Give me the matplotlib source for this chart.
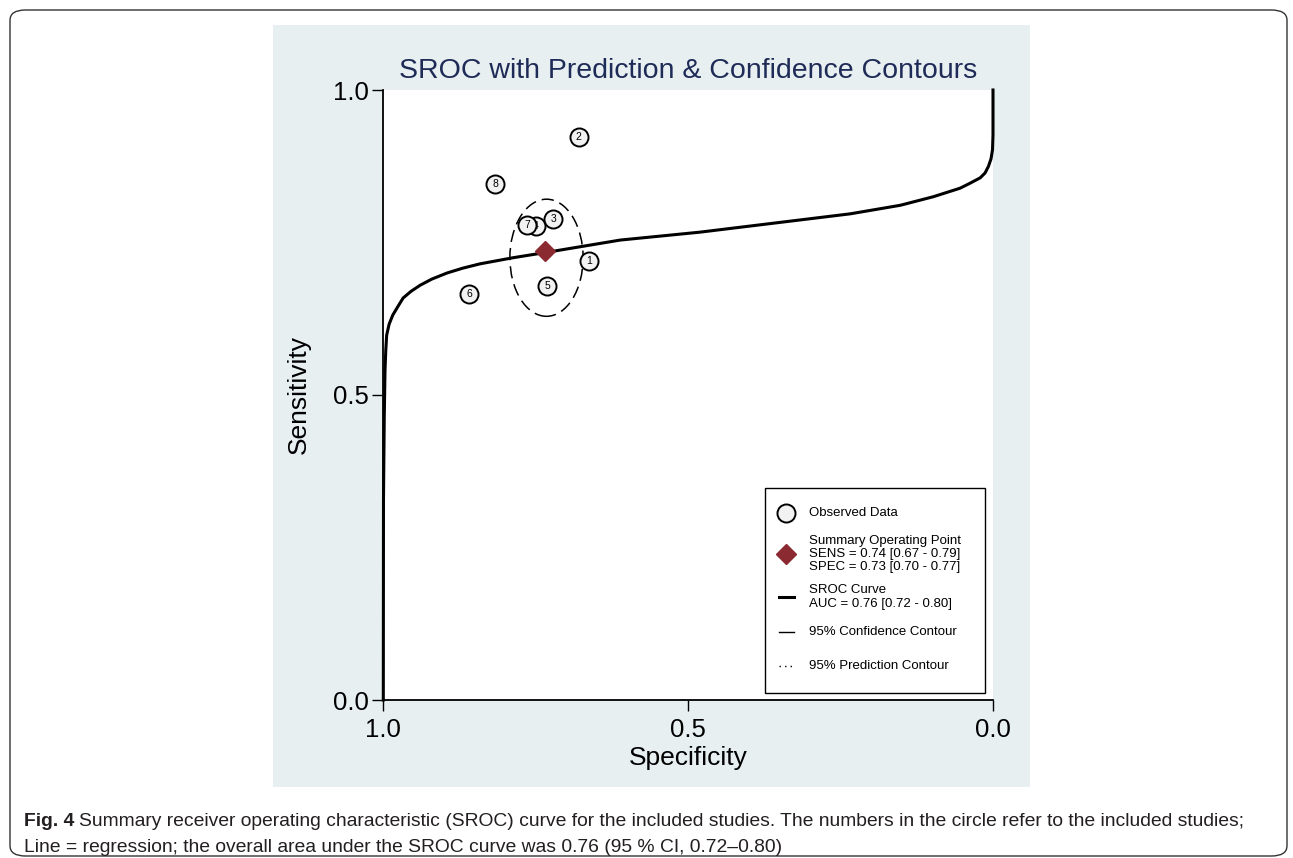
import matplotlib
matplotlib.use("Agg")
import matplotlib.pyplot as plt
from matplotlib import font_manager
from matplotlib.patches import Ellipse, Rectangle, FancyBboxPatch

# study points (specificity, sensitivity)
study_ids = ["4", "7", "2", "8", "3", "1", "5", "6"]
study_spec = [0.750, 0.764, 0.679, 0.816, 0.721, 0.662, 0.731, 0.859]
study_sens = [0.777, 0.779, 0.923, 0.846, 0.789, 0.720, 0.679, 0.666]

# summary operating point
summ_spec = 0.734
summ_sens = 0.736

# 95% confidence contour (centre, width in spec, height in sens)
conf_center = (0.732, 0.725)
conf_width = 0.120
conf_height = 0.192

# SROC curve
sroc_spec = [0.9995, 0.9992, 0.998, 0.9967, 0.9954, 0.994, 0.990, 0.984, 0.975,
             0.967, 0.954, 0.939, 0.920, 0.895, 0.869, 0.841, 0.787, 0.731,
             0.677, 0.611, 0.480, 0.398, 0.316, 0.234, 0.152, 0.098, 0.054,
             0.038, 0.021, 0.013, 0.0074, 0.0033, 0.0008, 0.0, 0.0]
sroc_sens = [0.000, 0.328, 0.459, 0.541, 0.574, 0.598, 0.616, 0.631, 0.646,
             0.659, 0.670, 0.680, 0.690, 0.700, 0.708, 0.715, 0.725, 0.734,
             0.743, 0.754, 0.767, 0.777, 0.787, 0.797, 0.811, 0.825, 0.839,
             0.847, 0.856, 0.864, 0.875, 0.887, 0.902, 0.926, 1.0]

ticks = [1.0, 0.5, 0.0]
tick_labels = ["1.0", "0.5", "0.0"]

title = "SROC with Prediction & Confidence Contours"
legend_labels = [
    "Observed Data",
    "Summary Operating Point\nSENS = 0.74 [0.67 - 0.79]\nSPEC = 0.73 [0.70 - 0.77]",
    "SROC Curve\nAUC = 0.76 [0.72 - 0.80]",
    "95% Confidence Contour",
    "95% Prediction Contour",
]
caption_1 = ("Summary receiver operating characteristic (SROC) curve for the included "
             "studies. The numbers in the circle refer to the included studies;")
caption_2 = "Line = regression; the overall area under the SROC curve was 0.76 (95 % CI, 0.72\u20130.80)"

names = {f.name for f in font_manager.fontManager.ttflist}
narrow = "Liberation Sans Narrow" if "Liberation Sans Narrow" in names else "Liberation Sans"
plt.rcParams["font.family"] = ["Liberation Sans", "DejaVu Sans"]

W, H = 1293, 858
fig = plt.figure(figsize=(W / 100, H / 100), dpi=100)

# outer rounded frame and grey-blue panel
fig.patches.append(FancyBboxPatch((10 / W, 2 / H), 1277 / W, 846 / H,
                                  boxstyle="round,pad=0,rounding_size=0.012",
                                  transform=fig.transFigure, fill=False,
                                  edgecolor="#333333", lw=1.0, zorder=-2))
fig.patches.append(Rectangle((273 / W, 71 / H), 757 / W, 762 / H,
                             transform=fig.transFigure, facecolor="#e7eff1",
                             edgecolor="none", zorder=-1))

ax = fig.add_axes([383 / W, 158 / H, 610 / W, 610 / H])
ax.set_facecolor("white")
ax.set_xlim(1.0, 0.0)
ax.set_ylim(0.0, 1.0)
for s in ["top", "right"]:
    ax.spines[s].set_visible(False)
for s in ["left", "bottom"]:
    ax.spines[s].set_linewidth(1.3)
ax.set_xticks(ticks)
ax.set_xticklabels(tick_labels)
ax.set_yticks(ticks)
ax.set_yticklabels(tick_labels)
ax.tick_params(length=8, width=1.0, labelsize=18.5)
ax.tick_params(axis="x", pad=5)
ax.tick_params(axis="y", pad=2)
for lbl in ax.get_xticklabels() + ax.get_yticklabels():
    lbl.set_family(narrow)
ax.set_xlabel("Specificity", fontsize=19, family=narrow, labelpad=3)
ax.set_ylabel("Sensitivity", fontsize=19, family=narrow, labelpad=16)
ax.set_title(title, fontsize=20.5, family=narrow, color="#1f2b57", pad=9)

ax.plot(sroc_spec, sroc_sens, color="black", lw=2.2, zorder=3, clip_on=False,
        solid_joinstyle="round")
ax.add_patch(Ellipse(conf_center, conf_width, conf_height, fill=False,
                     edgecolor="black", lw=1.1, linestyle=(0, (8, 4)), zorder=3))

for i, (sid, x, y) in enumerate(zip(study_ids, study_spec, study_sens)):
    z = 5 + 2 * i
    ax.plot(x, y, "o", ms=13, mfc="#f2f2f2", mec="black", mew=1.4, zorder=z)
    ax.text(x, y, sid, ha="center", va="center", fontsize=7.5, zorder=z + 1)

ax.plot(summ_spec, summ_sens, "D", ms=10.5, color="#8b2b31", zorder=30)

# legend box, drawn by hand in axes coordinates
T = ax.transAxes
ax.add_patch(Rectangle((0.626, 0.0115), 0.361, 0.336, transform=T,
                       facecolor="white", edgecolor="black", lw=1.0, zorder=40))
hx, lx0, lx1, tx = 0.6607, 0.6492, 0.6738, 0.6984
row_y = [0.3066, 0.2393, 0.1689, 0.1115, 0.0557]
ax.plot(hx, row_y[0], "o", ms=13, mfc="#f2f2f2", mec="black", mew=1.4,
        transform=T, zorder=41)
ax.plot(hx, row_y[1], "D", ms=10.5, color="#8b2b31", transform=T, zorder=41)
ax.plot([lx0, lx1], [row_y[2]] * 2, color="black", lw=2.2, transform=T, zorder=41)
ax.plot([lx0, lx1], [row_y[3]] * 2, color="black", lw=1.0, transform=T, zorder=41)
ax.plot([lx0, lx1], [row_y[4]] * 2, color="black", lw=1.0, ls=(0, (1, 3)),
        transform=T, zorder=41)
for y, lab in zip(row_y, legend_labels):
    ax.text(tx, y, lab, transform=T, ha="left", va="center", fontsize=9.5,
            linespacing=1.15, zorder=42)

cap_y1 = 1 - 826 / H
fig_lbl = fig.text(24 / W, cap_y1, "Fig. 4", fontsize=13.9, weight="bold", color="#231f20")
fig.canvas.draw()
bb = fig_lbl.get_window_extent()
fig.text((bb.x1 + 5) / W, cap_y1, caption_1, fontsize=13.9, color="#231f20")
fig.text(24 / W, 1 - 852 / H, caption_2, fontsize=13.9, color="#231f20")

fig.savefig("out.png", dpi=100)
